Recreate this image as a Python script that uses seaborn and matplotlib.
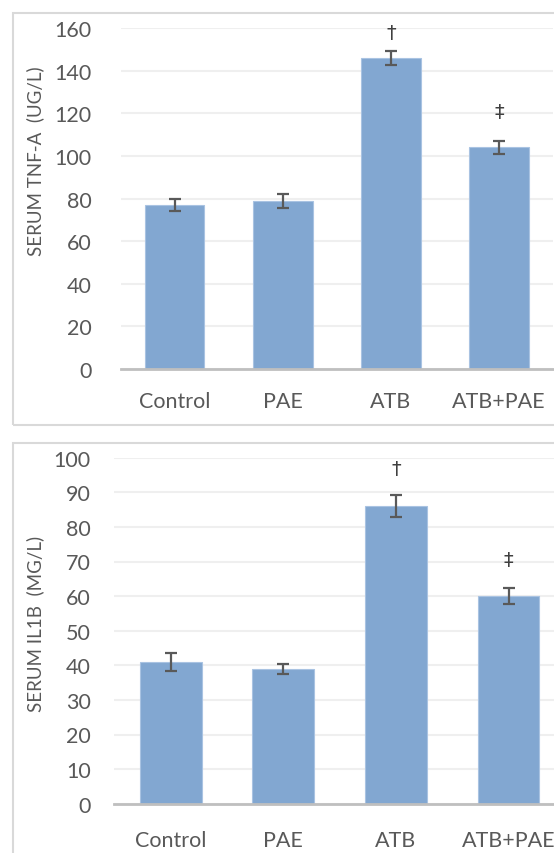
import numpy as np
import pandas as pd
import matplotlib
matplotlib.use("Agg")
import matplotlib.pyplot as plt
import seaborn as sns
from matplotlib.patches import Rectangle

# ----------------------------------------------------
# Data
# ----------------------------------------------------
groups = ["Control", "PAE", "ATB", "ATB+PAE"]

tnf_mean = [77, 79, 146, 104]
tnf_err = [2.7, 3.3, 3.3, 3.2]
tnf_marks = ["", "", "\u2020", "\u2021"]
tnf_mark_y = [None, None, 158, 121]

il1b_mean = [41, 39, 86, 60]
il1b_err = [2.6, 1.5, 3.1, 2.2]
il1b_marks = ["", "", "\u2020", "\u2021"]
il1b_mark_y = [None, None, 97, 70.5]

BAR = "#82a7d1"
TXT = "#595959"
GRID = "#efefef"
AXIS = "#bfbfbf"
FRAME = "#d9d9d9"

sns.set_theme(style="white")
plt.rcParams["font.family"] = ["Lato", "DejaVu Sans"]

W, H = 554, 854
fig = plt.figure(figsize=(W / 100, H / 100), dpi=100)


def px_axes(left, top, right, bottom):
    return fig.add_axes([left / W, 1 - bottom / H, (right - left) / W, (bottom - top) / H])


def frame(left, top, right, bottom):
    fig.patches.append(Rectangle((left / W, 1 - bottom / H), (right - left) / W, (bottom - top) / H,
                                 transform=fig.transFigure, fill=False, edgecolor=FRAME, linewidth=1.5))


def draw_panel(ax, means, errs, marks, mark_y, ymax, step, ylabel, label_xy, ypad, xpad):
    df = pd.DataFrame({"group": groups, "value": means})
    sns.barplot(data=df, x="group", y="value", color=BAR, saturation=1, width=0.55,
                edgecolor="#a9c3e2", linewidth=0.8, ax=ax, zorder=2)
    ax.errorbar(np.arange(len(groups)), means, yerr=errs, fmt="none", ecolor=TXT,
                elinewidth=1.6, capsize=4.5, capthick=1.6, zorder=3)
    for i, (m, y) in enumerate(zip(marks, mark_y)):
        if m:
            ax.text(i, y, m, ha="center", va="center", fontsize=14, color="#404040",
                    family=["DejaVu Sans"])
    ax.set_xlim(-0.5, len(groups) - 0.5)
    ax.set_ylim(0, ymax)
    ax.set_yticks(np.arange(0, ymax + 1, step))
    ax.yaxis.grid(True, color=GRID, linewidth=1.5, zorder=0)
    ax.set_axisbelow(True)
    for s in ["top", "right", "left"]:
        ax.spines[s].set_visible(False)
    ax.spines["bottom"].set_color(AXIS)
    ax.spines["bottom"].set_linewidth(2)
    ax.spines["bottom"].set_zorder(4)
    ax.tick_params(axis="y", length=0, pad=ypad, labelsize=15.5, labelcolor=TXT)
    ax.tick_params(axis="x", length=0, pad=xpad, labelsize=15.5, labelcolor=TXT)
    ax.set_xlabel("")
    ax.set_ylabel("")
    fig.text(label_xy[0] / W, 1 - label_xy[1] / H, ylabel, rotation=90, ha="center", va="center",
             fontsize=13.5, color=TXT)


# Panel frames
frame(12.7, 14, 600, 425.5)
frame(12.7, 444, 600, 900)

# Top: TNF-A
ax1 = px_axes(120.7, 29.2, 553, 370)
draw_panel(ax1, tnf_mean, tnf_err, tnf_marks, tnf_mark_y, 160, 20,
           "SERUM TNF-A  (UG/L)", (35, 161.5), 21, 16)

# Bottom: IL1B
ax2 = px_axes(114.4, 458.7, 564.8, 804.7)
draw_panel(ax2, il1b_mean, il1b_err, il1b_marks, il1b_mark_y, 100, 10,
           "SERUM IL1B  (MG/L)", (35, 623.7), 17, 19)

fig.savefig("out.png", dpi=100)
plt.close(fig)
